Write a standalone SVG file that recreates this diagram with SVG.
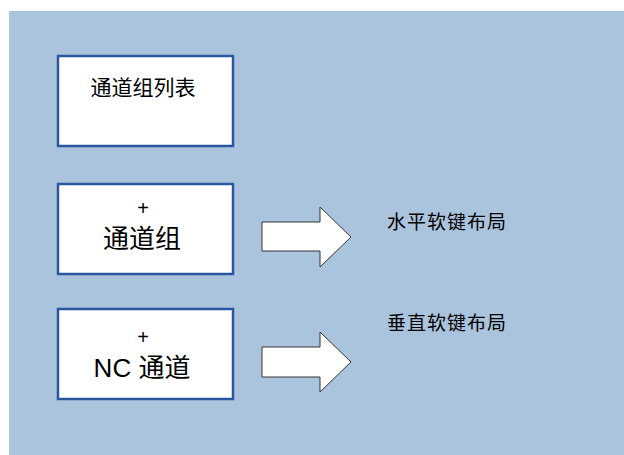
<svg xmlns="http://www.w3.org/2000/svg" width="624" height="455" viewBox="0 0 624 455">
<style>
.box{fill:#ffffff;stroke:#2a55a0;stroke-width:2.5}
.arrow{fill:#ffffff;stroke:#333333;stroke-width:1}
.t{font-family:"Liberation Sans","Noto Sans CJK SC",sans-serif;fill:#000000;text-anchor:middle}
.lbl{font-family:"Noto Sans CJK SC",sans-serif;fill:#000000;font-size:19px;letter-spacing:1px}
</style>
<rect x="0" y="0" width="624" height="455" fill="#ffffff"/>
<rect x="9" y="11" width="615" height="444" fill="#abc4de"/>
<g id="node-list">
<rect class="box" x="58" y="56" width="175" height="90"/>
<text class="t" x="143" y="95" font-size="21">通道组列表</text>
</g>
<g id="node-group">
<rect class="box" x="58" y="184" width="175" height="90"/>
<text class="t" x="143" y="215" font-size="20">+</text>
<text class="t" x="142" y="248" font-size="26">通道组</text>
</g>
<g id="node-nc">
<rect class="box" x="58" y="309" width="175" height="90"/>
<text class="t" x="143" y="344" font-size="20">+</text>
<text class="t" x="142" y="377" font-size="26">NC 通道</text>
</g>
<g id="connectors">
<polygon class="arrow" points="262,222 320,222 320,207 351,237 320,267 320,251 262,251"/>
<polygon class="arrow" points="262,347 320,347 320,332 351,362 320,392 320,377 262,377"/>
</g>
<g id="label-h">
<text class="lbl" x="387" y="229">水平软键布局</text>
</g>
<g id="label-v">
<text class="lbl" x="387" y="330">垂直软键布局</text>
</g>
</svg>
